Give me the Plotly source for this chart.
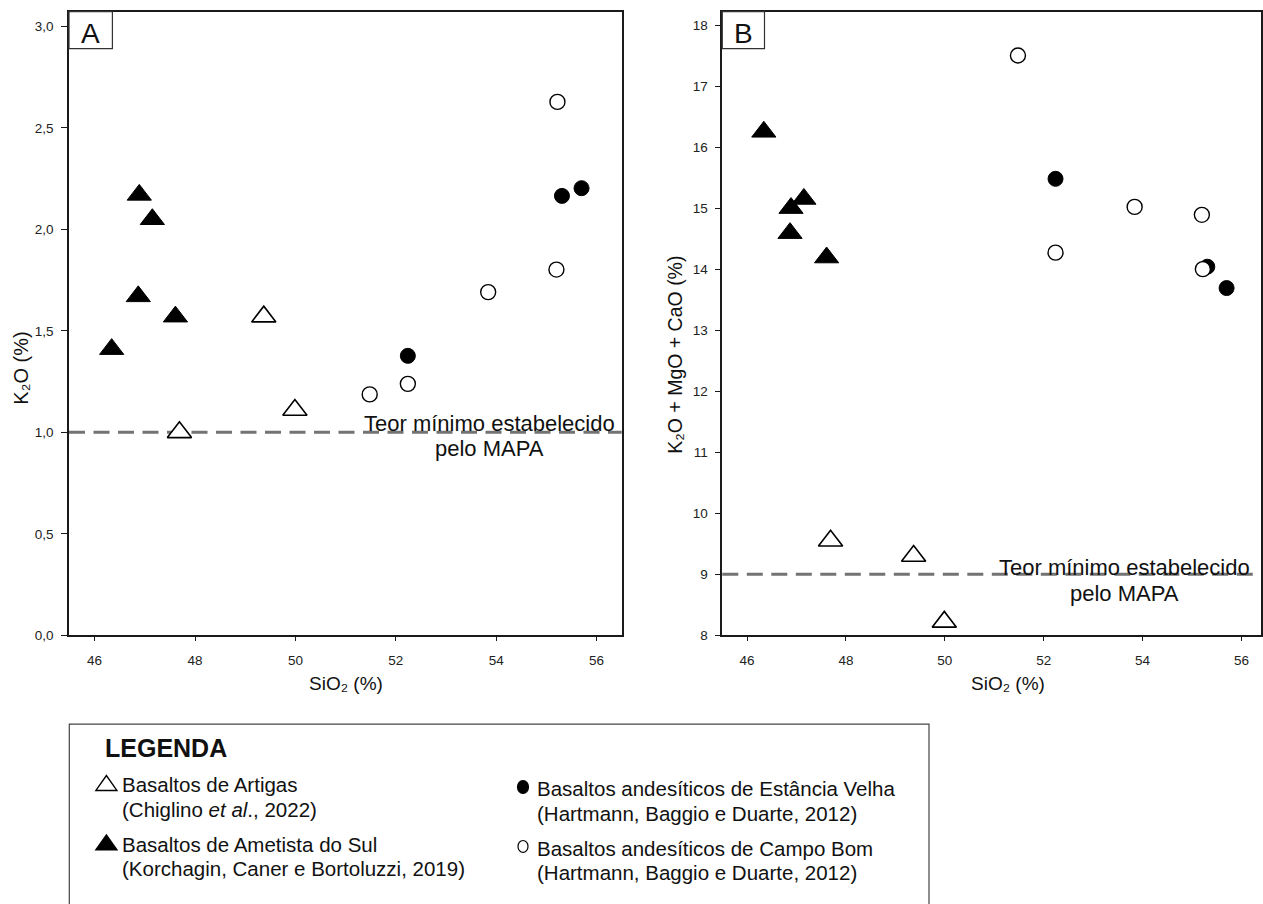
import plotly.graph_objects as go

# ---------------- data ----------------
# Basaltos de Artigas (open triangles)
artigas_sio2 = [47.69, 49.37, 49.99]
artigas_k2o = [1.00, 1.57, 1.11]
artigas_sum = [9.55, 9.30, 8.22]

# Basaltos de Ametista do Sul (filled triangles)
ametista_sio2 = [46.34, 46.87, 46.89, 47.15, 47.61]
ametista_k2o = [1.41, 1.67, 2.17, 2.05, 1.57]
ametista_sum = [16.25, 14.59, 15.00, 15.15, 14.19]

# Basaltos andesíticos de Estância Velha (filled circles)
estancia_sio2 = [52.24, 55.31, 55.70]
estancia_k2o = [1.377, 2.165, 2.203]
estancia_sum = [15.48, 14.04, 13.69]

# Basaltos andesíticos de Campo Bom (open circles)
campobom_sio2 = [51.48, 52.24, 53.84, 55.20, 55.22]
campobom_k2o = [1.187, 1.239, 1.691, 1.802, 2.628]
campobom_sum = [17.50, 14.27, 15.02, 14.89, 14.00]

# thresholds (Teor mínimo estabelecido pelo MAPA)
limit_k2o = 1.0
limit_sum = 9.0

# tick labels
x_ticks = [46, 48, 50, 52, 54, 56]
yA_ticks = [0.0, 0.5, 1.0, 1.5, 2.0, 2.5, 3.0]
yA_text = ["0,0", "0,5", "1,0", "1,5", "2,0", "2,5", "3,0"]
yB_ticks = [8, 9, 10, 11, 12, 13, 14, 15, 16, 17, 18]

# ---------------- layout helpers ----------------
W, H = 1263, 904
FONT = "Liberation Sans, Arial, Helvetica, sans-serif"
TEXT_DY = 4  # vertical correction so that cap-middle lands on target


def px(x):
    return x / W


def py(y):
    return 1 - y / H


fig = go.Figure()

tri_size = 21
circ_size = 15

for (xa, ya, k2o_or_sum) in [("x", "y", "A"), ("x2", "y2", "B")]:
    a_y = artigas_k2o if k2o_or_sum == "A" else artigas_sum
    m_y = ametista_k2o if k2o_or_sum == "A" else ametista_sum
    e_y = estancia_k2o if k2o_or_sum == "A" else estancia_sum
    c_y = campobom_k2o if k2o_or_sum == "A" else campobom_sum
    fig.add_trace(go.Scatter(
        x=ametista_sio2, y=m_y, mode="markers", xaxis=xa, yaxis=ya,
        marker=dict(symbol="triangle-up", size=tri_size, color="black",
                    line=dict(color="black", width=1)),
        showlegend=False, hoverinfo="skip"))
    fig.add_trace(go.Scatter(
        x=artigas_sio2, y=a_y, mode="markers", xaxis=xa, yaxis=ya,
        marker=dict(symbol="triangle-up", size=tri_size, color="white",
                    line=dict(color="black", width=1.6)),
        showlegend=False, hoverinfo="skip"))
    fig.add_trace(go.Scatter(
        x=estancia_sio2, y=e_y, mode="markers", xaxis=xa, yaxis=ya,
        marker=dict(symbol="circle", size=circ_size, color="black",
                    line=dict(color="black", width=1)),
        showlegend=False, hoverinfo="skip"))
    fig.add_trace(go.Scatter(
        x=campobom_sio2, y=c_y, mode="markers", xaxis=xa, yaxis=ya,
        marker=dict(symbol="circle", size=circ_size, color="white",
                    line=dict(color="black", width=1.4)),
        showlegend=False, hoverinfo="skip"))

axis_common = dict(
    showgrid=False, zeroline=False, showline=True, mirror=True,
    linecolor="#1a1a1a", linewidth=1.5, ticks="outside", tickcolor="#1a1a1a",
    tickwidth=1.3, tickfont=dict(family=FONT, size=13.5, color="#222"),
)

ydom = [py(641), py(11.7)]
fig.update_layout(
    width=W, height=H, autosize=False,
    margin=dict(l=0, r=0, t=0, b=0, pad=0),
    paper_bgcolor="white", plot_bgcolor="white",
    font=dict(family=FONT, color="#111"),
    xaxis=dict(domain=[px(69), px(621.7)], range=[45.49, 56.5],
               tickvals=x_ticks, ticklen=4, ticklabelstandoff=8,
               anchor="y", **axis_common),
    yaxis=dict(domain=ydom, range=[0, 3.073], tickvals=yA_ticks,
               ticktext=yA_text, ticklen=6, ticklabelstandoff=5,
               anchor="x", **axis_common),
    xaxis2=dict(domain=[px(722.3), px(1261.2)], range=[45.5, 56.4],
                tickvals=x_ticks, ticklen=4, ticklabelstandoff=8,
                anchor="y2", **axis_common),
    yaxis2=dict(domain=ydom, range=[8, 18.22], tickvals=yB_ticks,
                ticklen=6, ticklabelstandoff=4,
                anchor="x2", **axis_common),
)

# threshold dashed lines
for xr, yr, val in [("x domain", "y", limit_k2o), ("x2 domain", "y2", limit_sum)]:
    fig.add_shape(type="line", xref=xr, yref=yr, x0=0, x1=1, y0=val, y1=val,
                  line=dict(color="#737373", width=3, dash="16px,8.5px"),
                  layer="below")

annotations = []


def ann(text, x, y, size, xanchor="center", yanchor="middle", angle=0,
        weight="normal", family=FONT, color="#111"):
    if angle == 0:
        y = y + TEXT_DY
    annotations.append(dict(
        text=text,
        x=px(x), y=py(y), xref="paper", yref="paper",
        xanchor=xanchor, yanchor=yanchor, showarrow=False, textangle=angle,
        font=dict(family=family, size=size, color=color, weight=weight)))


# threshold text
ann("Teor mínimo estabelecido", 489, 423, 22)
ann("pelo MAPA", 489, 448, 22)
ann("Teor mínimo estabelecido", 1124.5, 569, 22)
ann("pelo MAPA", 1124.5, 595, 22)

# axis titles
ann("SiO₂ (%)", 346, 686, 19)
ann("SiO₂ (%)", 1008, 686, 19)
ann("K₂O (%)", 21, 372, 20, angle=-90)
ann("K₂O + MgO + CaO (%)", 675, 358, 19.5, angle=-90)

# panel letters with boxes
for letter, x0, x1 in [("A", 69, 112.4), ("B", 722.3, 764.5)]:
    fig.add_shape(type="rect", xref="paper", yref="paper",
                  x0=px(x0), x1=px(x1), y0=py(49), y1=py(11.7),
                  line=dict(color="#333", width=1.2), fillcolor="white",
                  layer="above")
    ann(letter, (x0 + x1) / 2, 30, 28)

# legend box
fig.add_shape(type="rect", xref="paper", yref="paper",
              x0=px(69.3), x1=px(929), y0=py(915), y1=py(730.5),
              line=dict(color="#444", width=1.2))
ann("LEGENDA", 103, 751, 25, xanchor="left", weight="bold")

legend_rows = [
    ("Basaltos de Artigas", "(Chiglino <i>et al</i>., 2022)", 120, 788, "tri_open", 106.4),
    ("Basaltos de Ametista do Sul", "(Korchagin, Caner e Bortoluzzi, 2019)", 120, 848, "tri_fill", 106.4),
    ("Basaltos andesíticos de Estância Velha", "(Hartmann, Baggio e Duarte, 2012)", 535, 792, "circ_fill", 523),
    ("Basaltos andesíticos de Campo Bom", "(Hartmann, Baggio e Duarte, 2012)", 535, 852, "circ_open", 523),
]
for l1, l2, tx, ty, sym, sx in legend_rows:
    ann(l1, tx, ty, 20.5, xanchor="left")
    ann(l2, tx, ty + 24.5, 20.5, xanchor="left")
    sy = ty + 2
    if sym.startswith("tri"):
        w, h = 21, 15
        path = "M %f,%f L %f,%f L %f,%f Z" % (
            px(sx - w / 2), py(sy + h / 2), px(sx + w / 2), py(sy + h / 2),
            px(sx), py(sy - h / 2))
        fig.add_shape(type="path", xref="paper", yref="paper", path=path,
                      line=dict(color="black", width=1.4),
                      fillcolor="black" if sym == "tri_fill" else "white")
    else:
        w, h = (11, 13) if sym == "circ_fill" else (10, 12)
        fig.add_shape(type="circle", xref="paper", yref="paper",
                      x0=px(sx - w / 2), x1=px(sx + w / 2),
                      y0=py(sy + h / 2), y1=py(sy - h / 2),
                      line=dict(color="black", width=1.2),
                      fillcolor="black" if sym == "circ_fill" else "white")

fig.update_layout(annotations=annotations)

fig.write_html(
    "out.html",
    config={"displayModeBar": False},
    post_script="document.body.style.margin='0';document.body.style.overflow='hidden';",
)
